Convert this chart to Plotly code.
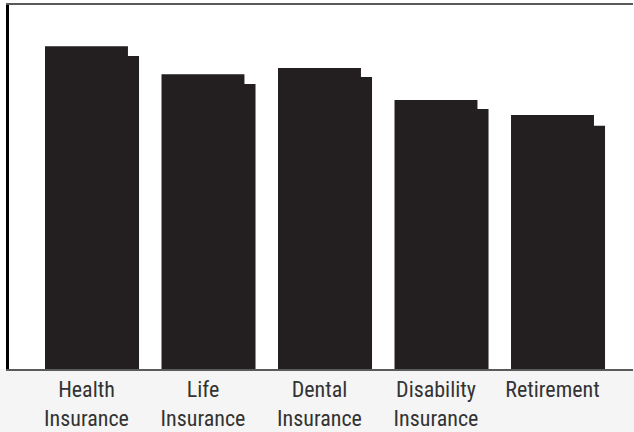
import plotly.graph_objects as go

categories = ["Health Insurance", "Life Insurance", "Dental Insurance",
              "Disability Insurance", "Retirement"]
tick_labels = ["Health<br>Insurance", "Life<br>Insurance", "Dental<br>Insurance",
               "Disability<br>Insurance", "Retirement"]
front_values = [88.7, 81.0, 82.7, 73.9, 69.8]
depth_values = [86.0, 78.3, 80.2, 71.4, 66.8]

BAR = "#231f20"

fig = go.Figure()
fig.add_trace(go.Bar(x=categories, y=depth_values, marker=dict(color=BAR, line=dict(width=0)),
                     width=0.721, offset=-0.270, showlegend=False, hoverinfo="skip"))
fig.add_trace(go.Bar(x=categories, y=front_values, marker=dict(color=BAR, line=dict(width=0)),
                     width=0.712, offset=-0.356, showlegend=False))

fig.add_shape(type="rect", xref="paper", yref="paper", x0=-0.02, x1=1.01, y0=0, y1=-0.2,
              fillcolor="#f5f5f5", line=dict(width=0), layer="below")

fig.update_layout(
    width=634, height=432,
    margin=dict(l=9, r=1, t=5, b=63),
    barmode="overlay",
    paper_bgcolor="white", plot_bgcolor="white",
    font=dict(family="Liberation Sans Narrow, Arial Narrow, Roboto Condensed, Liberation Sans",
              size=22, color="#333333"),
    xaxis=dict(type="category", range=[-0.665, 4.691], tickvals=categories, ticktext=tick_labels,
               showline=True, linecolor="#5a5a5a", linewidth=2, mirror=True,
               ticks="", showgrid=False, zeroline=False, automargin=False),
    yaxis=dict(range=[0, 100], showline=True, linecolor="black", linewidth=3,
               showticklabels=False, ticks="", showgrid=False, zeroline=False, automargin=False),
)

fig.write_html("out.html", config={"displayModeBar": False},
               post_script="document.body.style.margin='0';document.body.style.overflow='hidden';")
